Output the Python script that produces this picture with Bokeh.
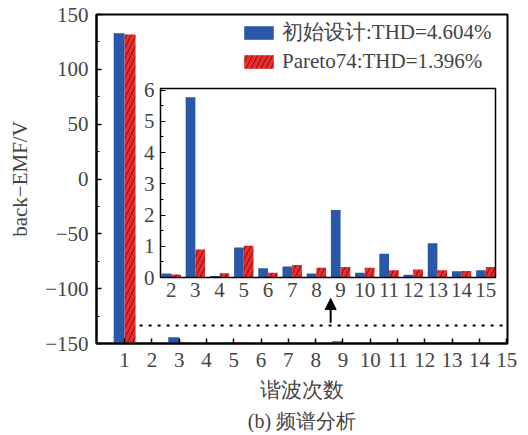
from bokeh.plotting import figure
from bokeh.models import (Range1d, LinearAxis, FixedTicker, BoxAnnotation, Arrow,
                          NormalHead, Legend, LegendItem, Title, ColumnDataSource)
from bokeh.transform import dodge
from bokeh.embed import file_html
from bokeh.resources import INLINE

# ---- data: harmonic amplitudes of the back-EMF (V) ----
harmonics = list(range(1, 16))
initial_amp = [282.9, 0.13, 5.77, 0.05, 0.96, 0.30, 0.35, 0.13, 2.16, 0.15, 0.76, 0.09, 1.10, 0.20, 0.23]
pareto_amp = [281.8, 0.10, 0.90, 0.14, 1.02, 0.15, 0.40, 0.31, 0.34, 0.31, 0.23, 0.26, 0.23, 0.21, 0.34]
label_initial = "初始设计:THD=4.604%"
label_pareto = "Pareto74:THD=1.396%"
y_ticks = [-150, -100, -50, 0, 50, 100, 150]
inset_y_ticks = [0, 1, 2, 3, 4, 5, 6]
base_level = -150          # bars of the main panel rise from the bottom of the axis
zoom_marker_level = -133.5  # dotted line marking the zoomed band
zoom_marker_x = (1.55, 15.03)
arrow_x = 8.55
arrow_y = (-131, -109)

# ---- layout ----
W, H = 528, 435
FL, FR, FT, FB = 96, 507, 14, 343           # frame edges (px)
INSET_PX = (160, 495, 277, 88)               # inset left, right, bottom, top (px)
INSET_DATA = (1.56, 15.4, 0.0, 6.05)         # inset x0, x1, y0, y1 (data)

FONT = "Liberation Serif"
FS = "21px"
BLUE = "#2958a8"
RED = "#ee2b2b"
HATCH = dict(hatch_pattern="/", hatch_color="black", hatch_scale=10,
             hatch_weight=0.6, hatch_alpha=0.85)


def frame_span(d0, d1, p0, p1, f0, f1):
    """Range over the whole frame so that d0->p0 and d1->p1 in pixels."""
    k = (d1 - d0) / (p1 - p0)
    return d0 + (f0 - p0) * k, d0 + (f1 - p0) * k


ix0, ix1 = frame_span(INSET_DATA[0], INSET_DATA[1], INSET_PX[0], INSET_PX[1], FL, FR)
iy0, iy1 = frame_span(INSET_DATA[2], INSET_DATA[3], INSET_PX[2], INSET_PX[3], FB, FT)

p = figure(width=W, height=H, output_backend="svg", toolbar_location=None,
           x_range=Range1d(-0.03, 15.03), y_range=Range1d(-150, 150),
           min_border_left=FL, min_border_right=W - FR,
           min_border_top=FT, min_border_bottom=H - FB)
p.extra_x_ranges = {"ix": Range1d(ix0, ix1)}
p.extra_y_ranges = {"iy": Range1d(iy0, iy1)}

p.xgrid.visible = False
p.ygrid.visible = False
p.outline_line_color = "black"
p.outline_line_width = 2
p.background_fill_color = "white"
p.border_fill_color = "white"

# ---- main axes ----
xa = p.xaxis[0]
xa.ticker = FixedTicker(ticks=harmonics)
xa.axis_label = "谐波次数"
ya = p.yaxis[0]
ya.ticker = FixedTicker(ticks=y_ticks, minor_ticks=list(range(-150, 151, 25)))
ya.axis_label = "back−EMF/V"
ya.major_label_overrides = {t: (f"−{abs(t)}" if t < 0 else str(t)) for t in y_ticks}

for ax in (xa, ya):
    ax.axis_line_width = 2
    ax.major_tick_in = 5
    ax.major_tick_out = 0
    ax.minor_tick_in = 3
    ax.minor_tick_out = 0
    ax.major_tick_line_width = 1.5
    ax.major_label_text_font = FONT
    ax.major_label_text_font_size = FS
    ax.axis_label_text_font = FONT
    ax.axis_label_text_font_size = "21px"
    ax.axis_label_text_font_style = "normal"
xa.major_label_standoff = 9
xa.axis_label_standoff = 8
ya.major_label_standoff = 8
ya.axis_label_standoff = 10

p.add_layout(Title(text="(b) 频谱分析", align="center", text_font=FONT,
                   text_font_size="20px", text_font_style="normal", standoff=6), "below")

# ---- main bars ----
src = ColumnDataSource(dict(
    h=harmonics,
    base=[base_level] * len(harmonics),
    init_top=[base_level + v for v in initial_amp],
    par_top=[base_level + v for v in pareto_amp],
))
r_init = p.vbar(x=dodge("h", -0.2), width=0.4, bottom="base", top="init_top", source=src,
                fill_color=BLUE, line_color=None)
r_par = p.vbar(x=dodge("h", 0.2), width=0.4, bottom="base", top="par_top", source=src,
               fill_color=RED, line_color=None, **HATCH)

# zoom indicator
p.segment(x0=[zoom_marker_x[0]], x1=[zoom_marker_x[1]], y0=[zoom_marker_level], y1=[zoom_marker_level],
          line_color="black", line_width=2, line_dash="3 6")
p.add_layout(Arrow(end=NormalHead(size=11, fill_color="black", line_color="black"),
                   x_start=arrow_x, y_start=arrow_y[0], x_end=arrow_x, y_end=arrow_y[1],
                   line_color="black", line_width=2))

# ---- inset: harmonics 2..15 ----
isrc = ColumnDataSource(dict(h=harmonics[1:], init=initial_amp[1:], par=pareto_amp[1:]))
p.vbar(x=dodge("h", -0.2), width=0.4, top="init", bottom=0, source=isrc,
       x_range_name="ix", y_range_name="iy", fill_color=BLUE, line_color=None)
p.vbar(x=dodge("h", 0.2), width=0.4, top="par", bottom=0, source=isrc,
       x_range_name="ix", y_range_name="iy", fill_color=RED, line_color=None, **HATCH)

p.add_layout(BoxAnnotation(left=INSET_DATA[0], right=INSET_DATA[1], bottom=INSET_DATA[2], top=INSET_DATA[3],
                           x_range_name="ix", y_range_name="iy", fill_alpha=0,
                           line_color="black", line_width=1.5, line_alpha=1))

iy_axis = LinearAxis(x_range_name="ix", y_range_name="iy", fixed_location=INSET_DATA[0],
                     bounds=(INSET_DATA[2], INSET_DATA[3]),
                     ticker=FixedTicker(ticks=inset_y_ticks, minor_ticks=[i * 0.5 for i in range(13)]),
                     major_tick_in=5, major_tick_out=0, minor_tick_in=3, minor_tick_out=0,
                     axis_line_color=None, major_label_standoff=6,
                     major_label_text_font=FONT, major_label_text_font_size=FS)
p.add_layout(iy_axis, "left")
ix_axis = LinearAxis(x_range_name="ix", y_range_name="iy", fixed_location=INSET_DATA[2],
                     bounds=(INSET_DATA[0], INSET_DATA[1]),
                     ticker=FixedTicker(ticks=harmonics[1:]),
                     major_tick_in=0, major_tick_out=0, minor_tick_in=0, minor_tick_out=0,
                     axis_line_color=None, major_label_standoff=5,
                     major_label_text_font=FONT, major_label_text_font_size=FS)
p.add_layout(ix_axis, "below")

# ---- legend ----
legend = Legend(items=[LegendItem(label=label_initial, renderers=[r_init]),
                       LegendItem(label=label_pareto, renderers=[r_par])],
                location=(240 - FL, FB - 74), orientation="vertical",
                glyph_width=37, glyph_height=17, label_height=17, spacing=3,
                label_standoff=5, padding=0, margin=0,
                border_line_alpha=0, background_fill_alpha=0,
                label_text_font=FONT, label_text_font_size=FS)
p.add_layout(legend, "center")

open("out.html", "w").write(file_html(p, INLINE))
